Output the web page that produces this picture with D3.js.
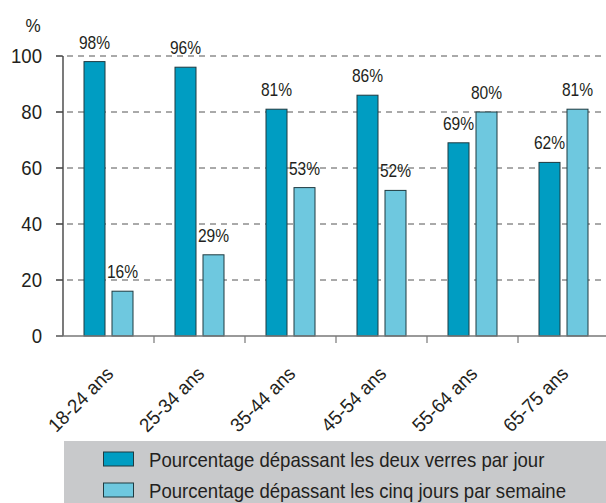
<!DOCTYPE html>
<html>
<head>
<meta charset="utf-8">
<script src="https://cdn.jsdelivr.net/npm/d3@7"></script>
<style>
  html, body { margin: 0; padding: 0; background: #fff; }
  svg text { font-family: "Liberation Sans", Arial, sans-serif; fill: #231f20; }
</style>
</head>
<body>
<div id="chart"></div>
<script>
const categories = ["18-24 ans", "25-34 ans", "35-44 ans", "45-54 ans", "55-64 ans", "65-75 ans"];
const deuxVerres = [98, 96, 81, 86, 69, 62];
const cinqJours  = [16, 29, 53, 52, 80, 81];
const yTicks = [0, 20, 40, 60, 80, 100];
const legendLabels = [
  "Pourcentage dépassant les deux verres par jour",
  "Pourcentage dépassant les cinq jours par semaine"
];
const colors = ["#009dc2", "#6ec8df"];

const W = 606, H = 503;
const pL = 63, pR = 609, pT = 56, pB = 336;

const svg = d3.select("#chart").append("svg").attr("width", W).attr("height", H);

const x = d3.scaleBand().domain(categories).range([pL, pR]);
const y = d3.scaleLinear().domain([0, 100]).range([pB, pT]);

// condensed-looking text: squeeze horizontally
function label(parent, tx, ty, str, size, anchor, sx, rot) {
  return parent.append("text")
    .attr("transform", `translate(${tx},${ty})` + (rot ? ` rotate(${rot})` : "") + ` scale(${sx},1)`)
    .attr("text-anchor", anchor).attr("font-size", size + "px").text(str);
}

// grid lines (dashed) + tick marks
yTicks.forEach(t => {
  if (t > 0) {
    svg.append("line")
      .attr("x1", pL - 7).attr("x2", W).attr("y1", y(t)).attr("y2", y(t))
      .attr("stroke", "#555").attr("stroke-width", 1).attr("stroke-dasharray", "6,5");
  }
  svg.append("line")
    .attr("x1", pL - 7).attr("x2", pL).attr("y1", y(t)).attr("y2", y(t))
    .attr("stroke", "#333").attr("stroke-width", 1);
  label(svg, pL - 21, y(t) + 7, t, 20, "end", 0.93);
});

label(svg, 33, 32, "%", 19, "middle", 0.9);

// bars
const bw = 21, gap = 3.5;
const series = [deuxVerres, cinqJours];
series.forEach((vals, si) => {
  vals.forEach((v, i) => {
    const cx = x(categories[i]) + x.bandwidth() / 2;
    const bx = si === 0 ? cx - gap - bw : cx + gap;
    svg.append("rect")
      .attr("x", bx).attr("y", y(v)).attr("width", bw).attr("height", y(0) - y(v))
      .attr("fill", colors[si]).attr("stroke", "#1f3a40").attr("stroke-width", 1);
    label(svg, bx + bw / 2, y(v) - 13, v + "%", 17.5, "middle", 0.89);
  });
});

// axes lines
svg.append("line").attr("x1", pL).attr("x2", pL).attr("y1", pT).attr("y2", pB)
  .attr("stroke", "#222").attr("stroke-width", 1.2);
svg.append("line").attr("x1", pL - 7).attr("x2", W).attr("y1", pB).attr("y2", pB)
  .attr("stroke", "#777").attr("stroke-width", 1.5);

// x ticks between groups
categories.slice(1).forEach(c => {
  svg.append("line").attr("x1", x(c)).attr("x2", x(c)).attr("y1", pB).attr("y2", pB + 7)
    .attr("stroke", "#777").attr("stroke-width", 1.2);
});

// x labels
categories.forEach(c => {
  const cx = x(c) + x.bandwidth() / 2 + 6;
  label(svg, cx, pB + 39, c, 19.5, "end", 0.95, -45);
});

// legend
const lg = svg.append("g");
lg.append("rect").attr("x", 64).attr("y", 441).attr("width", W - 64).attr("height", H - 441)
  .attr("fill", "#c8c9cb");
legendLabels.forEach((t, i) => {
  const ly = 452 + i * 31;
  lg.append("rect").attr("x", 103.5).attr("y", ly).attr("width", 30).attr("height", 14)
    .attr("fill", colors[i]).attr("stroke", "#1f3a40").attr("stroke-width", 1);
  label(lg, 149, ly + 15, t, 21, "start", 0.885);
});
</script>
</body>
</html>
